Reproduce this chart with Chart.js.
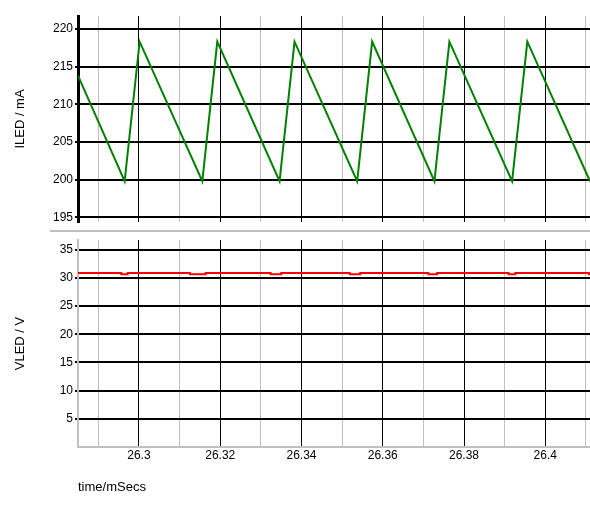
<!DOCTYPE html>
<html><head><meta charset="utf-8">
<script src="https://cdn.jsdelivr.net/npm/chart.js@4.4.1/dist/chart.umd.min.js"></script>
<style>
html,body{margin:0;padding:0;background:#fff;}
#wrap{position:relative;width:590px;height:508px;overflow:hidden;background:#fff;}
canvas{position:absolute;left:0;display:block;}
#c1{top:0}
#c2{top:232px}
</style></head><body>
<div id="wrap"><canvas id="c1" width="590" height="232"></canvas><canvas id="c2" width="590" height="276"></canvas></div>
<script>
// ---- data ----
const ledTime = [26.285, 26.29648, 26.30017, 26.31559, 26.31928, 26.33460, 26.33829, 26.35370, 26.35739, 26.37271, 26.37640, 26.39182, 26.39558, 26.411];
const ledCurrent = [213.8, 199.8, 218.3, 199.8, 218.3, 199.8, 218.3, 199.8, 218.3, 199.8, 218.3, 199.8, 218.3, 199.8];
const vTime = [26.285, 26.29567, 26.29722, 26.31254, 26.31640, 26.33239, 26.33502, 26.35189, 26.35444, 26.37124, 26.37338, 26.39098, 26.39263, 26.41076, 26.411];
const vLed = [30.85, 30.64, 30.85, 30.64, 30.85, 30.64, 30.85, 30.64, 30.85, 30.64, 30.85, 30.64, 30.85, 30.64, 30.64];
const timeTicks = [26.29, 26.30, 26.31, 26.32, 26.33, 26.34, 26.35, 26.36, 26.37, 26.38, 26.39, 26.40, 26.41];
const iTicks = [195, 200, 205, 210, 215, 220];
const vTicks = [5, 10, 15, 20, 25, 30, 35];

Chart.defaults.font.family = '"Liberation Sans", Arial, sans-serif';
Chart.defaults.font.size = 12;
Chart.defaults.color = '#000';

function isMajor(v){ return Math.round(v*100) % 2 === 0; }
function fmt(v){ return isMajor(v) ? String(+(+v).toFixed(2)) : ''; }
function gridCol(ctx){ return (ctx.tick && !isMajor(ctx.tick.value)) ? '#c0c0c0' : '#000'; }

const separator = {
  id: 'separator',
  afterDraw(chart){
    const c = chart.ctx;
    c.save();
    c.fillStyle = '#c0c0c0';
    c.fillRect(50, 230, 540, 2);
    c.restore();
  }
};

const common = {
  responsive: false,
  animation: false,
  devicePixelRatio: 1,
  plugins: { legend: { display: false }, tooltip: { enabled: false } }
};

new Chart(document.getElementById('c1'), {
  type: 'line',
  data: { datasets: [{
    data: ledTime.map((t, i) => ({ x: t, y: ledCurrent[i] })),
    borderColor: '#008000', borderWidth: 2, pointRadius: 0, fill: false, tension: 0
  }]},
  options: Object.assign({}, common, {
    layout: { padding: { top: 16, bottom: 10, left: 0, right: 0 } },
    scales: {
      x: {
        type: 'linear', min: 26.285, max: 26.411,
        afterBuildTicks: s => { s.ticks = timeTicks.map(v => ({ value: v })); },
        ticks: { display: false },
        grid: { color: gridCol, lineWidth: 1, drawTicks: false },
        border: { display: false },
        afterFit: s => { s.height = 0; s.paddingLeft = 0; s.paddingRight = 0; }
      },
      y: {
        min: 194.4, max: 221.7,
        afterBuildTicks: s => { s.ticks = iTicks.map(v => ({ value: v })); },
        ticks: { padding: 2, color: '#000' },
        grid: { color: '#000', lineWidth: 2, tickLength: 3 },
        border: { display: true, color: '#000', width: 3 },
        title: { display: true, text: 'ILED / mA', font: { size: 13 }, color: '#000', padding: { top: 13, bottom: 0 } },
        afterFit: s => { s.width = 78; s.paddingTop = 0; s.paddingBottom = 0; }
      }
    }
  }),
  plugins: [separator]
});

new Chart(document.getElementById('c2'), {
  type: 'line',
  data: { datasets: [{
    data: vTime.map((t, i) => ({ x: t, y: vLed[i] })),
    borderColor: '#ff0000', borderWidth: 2, pointRadius: 0, fill: false, stepped: true
  }]},
  options: Object.assign({}, common, {
    layout: { padding: { top: 8, bottom: 0, left: 0, right: 0 } },
    scales: {
      x: {
        type: 'linear', min: 26.285, max: 26.411,
        afterBuildTicks: s => { s.ticks = timeTicks.map(v => ({ value: v })); },
        ticks: { padding: 1, autoSkip: false, maxRotation: 0, minRotation: 0, color: '#000', callback: v => fmt(v) },
        grid: { color: gridCol, lineWidth: 1, drawTicks: false },
        border: { display: true, color: '#c0c0c0', width: 2 },
        title: { display: true, text: 'time/mSecs', align: 'start', font: { size: 13 }, color: '#000', padding: { top: 0, bottom: 13 } },
        afterFit: s => { s.height = 61; s.paddingLeft = 0; s.paddingRight = 0; }
      },
      y: {
        min: 0, max: 36.7,
        afterBuildTicks: s => { s.ticks = vTicks.map(v => ({ value: v })); },
        ticks: { padding: 2, color: '#000' },
        grid: { color: '#000', lineWidth: 2, tickLength: 3 },
        border: { display: true, color: '#c0c0c0', width: 2 },
        title: { display: true, text: 'VLED / V', font: { size: 13 }, color: '#000', padding: { top: 13, bottom: 0 } },
        afterFit: s => { s.width = 78; s.paddingTop = 0; s.paddingBottom = 0; }
      }
    }
  })
});
</script>
</body></html>
